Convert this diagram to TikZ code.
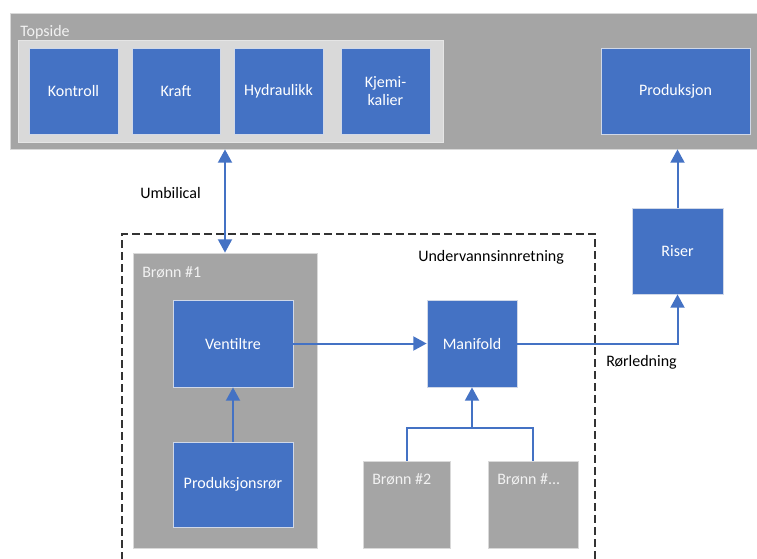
\documentclass[tikz,border=0pt]{standalone}
\usepackage{fontspec}
\setmainfont{Carlito}
\usetikzlibrary{arrows.meta}
\definecolor{mblue}{HTML}{4472C4}
\definecolor{mgrey}{HTML}{A5A5A5}
\definecolor{lgrey}{HTML}{D9D9D9}
\definecolor{edgec}{HTML}{D0D8E8}
\tikzset{
  box/.style={inner sep=0pt,draw=white!75!black,line width=0.6pt,text=white,font=\fontsize{12}{13}\selectfont,align=center},
  bluebox/.style={box,fill=mblue,draw=edgec},
  greybox/.style={box,fill=mgrey,draw=white!85!black},
  lightbox/.style={box,fill=lgrey,draw=white!90!black},
  lbl/.style={anchor=west,inner sep=0pt,font=\fontsize{12}{13}\selectfont},
  wlbl/.style={lbl,text=white!95!black},
  arr/.style={draw=mblue,line width=1.5pt,-{Triangle[width=10.5pt,length=10pt]}},
  conn/.style={draw=mblue,line width=1.5pt},
  dbl/.style={draw=mblue,line width=1.5pt,{Triangle[width=10.5pt,length=10pt]}-{Triangle[width=10.5pt,length=10pt]}},
  frame/.style={draw=black!80,line width=0.8pt,dash pattern=on 6pt off 3pt}
}
\newcommand\bx[7]{\node[#1,minimum width={(#5-#3)*0.75pt},minimum height={(#6-#4)*0.75pt}] (#2) at ({(#3+#5)/2},{(#4+#6)/2}) {#7};}
\begin{document}
\begin{tikzpicture}[x=0.75pt,y=-0.75pt]
\useasboundingbox (0,0) rectangle (757,558);
% Topside
\bx{greybox}{top}{10}{13}{758}{149}{}
\node[wlbl] (toplbl) at (20,32) {Topside};
\bx{lightbox}{inner}{18}{40}{443}{142}{}
\bx{bluebox}{kontroll}{29}{48}{118}{134}{Kontroll}
\bx{bluebox}{kraft}{132}{48}{220}{134}{Kraft}
\bx{bluebox}{hydr}{234}{48}{323}{134}{Hydraulikk}
\bx{bluebox}{kjem}{341}{48}{430}{134}{Kjemi-\\kalier}
\bx{bluebox}{prod}{601}{48}{750}{134}{Produksjon}
% Riser
\bx{bluebox}{riser}{632}{208}{723}{294}{Riser}
% Subsea
\draw[frame] (122,560) |- (595,234) -- (595,560);
\node[lbl] (under) at (418,257) {Undervannsinnretning};
\bx{greybox}{b1}{133}{253}{317}{548}{}
\node[wlbl] (b1lbl) at (142,272) {Brønn \#1};
\bx{bluebox}{vt}{173}{300}{293}{387}{Ventiltre}
\bx{bluebox}{pr}{173}{442}{293}{527}{Produksjonsrør}
\bx{bluebox}{mf}{427}{300}{517}{387}{Manifold}
\bx{greybox}{b2}{363}{461}{450}{548}{}
\node[wlbl] (b2lbl) at (372,479) {Brønn \#2};
\bx{greybox}{b3}{488}{461}{578}{548}{}
\node[wlbl] (b3lbl) at (497,479) {Brønn \#...};
% labels
\node[lbl] (umb) at (140,193) {Umbilical};
\node[lbl] (ror) at (606,362) {Rørledning};
% connectors
\coordinate (u) at (225,0);
\coordinate (j) at (472,428);
\draw[dbl] (top.south -| u) -- (b1.north -| u);
\draw[arr] (vt.east) -- (mf.west);
\draw[arr] (mf.east) -| (riser.south);
\draw[arr] (riser.north) -- (riser.north |- top.south);
\draw[arr] (pr.north) -- (vt.south);
\draw[conn] (b2.north) |- (j);
\draw[conn] (b3.north) |- (j);
\draw[arr] (j) -- (mf.south);
\end{tikzpicture}
\end{document}
